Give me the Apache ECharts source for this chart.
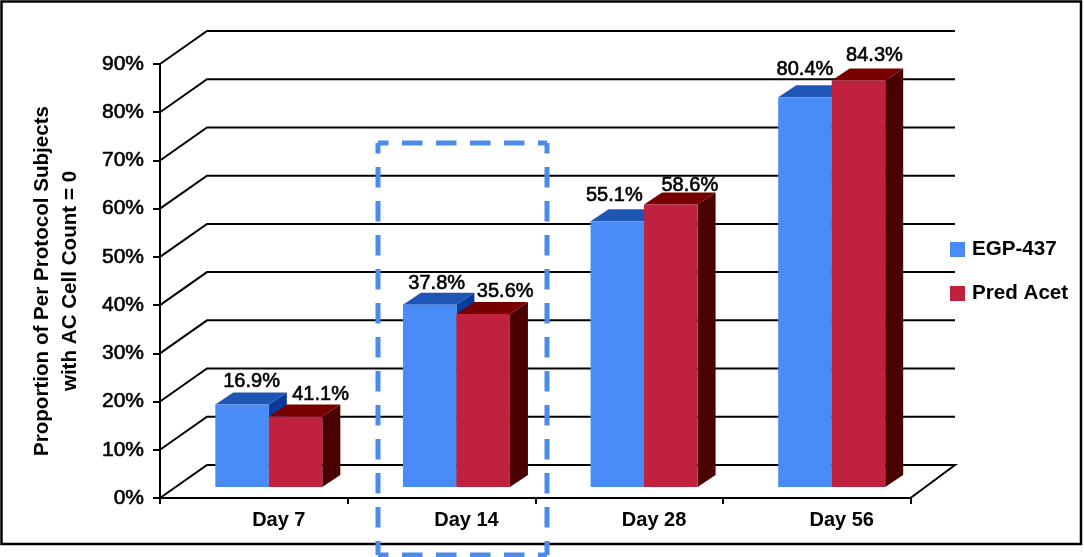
<!DOCTYPE html>
<html>
<head>
<meta charset="utf-8">
<style>html,body{margin:0;padding:0;background:#fff}#c{width:1084px;height:557px}</style>
<script src="https://cdn.jsdelivr.net/npm/echarts@6/dist/echarts.min.js"></script>
</head>
<body>
<div id="c"></div>
<script>
const categories = ['Day 7', 'Day 14', 'Day 28', 'Day 56'];
const egpValues = [17.1, 37.8, 55.1, 80.8];
const predValues = [14.6, 35.9, 58.6, 84.3];
const egpLabels = ['16.9%', '37.8%', '55.1%', '80.4%'];
const predLabels = ['41.1%', '35.6%', '58.6%', '84.3%'];
const yTicks = [0, 10, 20, 30, 40, 50, 60, 70, 80, 90];

// layout of the pseudo-3D drawing
const FONT = '"Liberation Sans", Arial, sans-serif';
const WALL = { dx: 47, dy: -33, right: 955 };
const BAR = { w: 53.5, shiftX: 15, baseUp: 11, dx: 18, dy: -12 };
const egpNudge = [[9.5, -23], [7, -21], [-3, -26], [0, -28]];
const predNudge = [[25, -22], [22, -22], [19, -19], [16, -25]];

function wallItem(params, api) {
  const v = api.value(0);
  const p = api.coord([0, v]);
  const x0 = params.coordSys.x;
  const y = p[1];
  const style = { stroke: '#000', lineWidth: 2, fill: 'none', lineJoin: 'miter' };
  const pts = [[x0, y], [x0 + WALL.dx, y + WALL.dy], [WALL.right, y + WALL.dy]];
  if (v === 0) pts.push([params.coordSys.x + params.coordSys.width, y]);
  return { type: 'polyline', shape: { points: pts }, style, silent: true };
}

function barRender(side, colors, labels, nudge) {
  return function (params, api) {
    const idx = api.value(0);
    const top = api.coord([idx, api.value(1)]);
    const zero = api.coord([idx, 0]);
    const xl = top[0] + BAR.shiftX + (side < 0 ? -BAR.w : 0);
    const xr = xl + BAR.w;
    const yb = zero[1] - BAR.baseUp;
    const ty = yb - (zero[1] - top[1]);
    const d = { x: BAR.dx, y: BAR.dy };
    const n = nudge[idx];
    return {
      type: 'group',
      children: [
        { type: 'polygon', shape: { points: [[xr, ty], [xr + d.x, ty + d.y], [xr + d.x, yb + d.y], [xr, yb]] }, style: { fill: colors.side } },
        { type: 'polygon', shape: { points: [[xl, ty], [xl + d.x, ty + d.y], [xr + d.x, ty + d.y], [xr, ty]] }, style: { fill: colors.top } },
        { type: 'rect', shape: { x: xl, y: ty, width: BAR.w, height: yb - ty }, style: { fill: colors.front } },
        { type: 'text', z2: 10, style: { x: (xl + xr) / 2 + n[0], y: ty + n[1], text: labels[idx], align: 'center', verticalAlign: 'middle', fontFamily: FONT, fontSize: 20, fill: '#000', stroke: '#000', lineWidth: 0.6 } }
      ]
    };
  };
}

const blue = { front: '#4a8cf7', top: '#1f55b5', side: '#0a3a9c' };
const red = { front: '#c0213f', top: '#760000', side: '#4a0000' };

const chart = echarts.init(document.getElementById('c'), null, { renderer: 'canvas' });
chart.setOption({
  animation: false,
  backgroundColor: '#fff',
  textStyle: { fontFamily: FONT },
  grid: { left: 160, top: 64, width: 750.5, height: 434, containLabel: false, outerBoundsMode: 'none' },
  legend: {
    orient: 'vertical', left: 945, top: 234, itemWidth: 15, itemHeight: 15, itemGap: 23,
    icon: 'rect', data: ['EGP-437', 'Pred Acet'],
    textStyle: { fontFamily: FONT, fontSize: 20.6, fontWeight: 'bold', color: '#000', padding: [0, 0, 0, 2] }
  },
  xAxis: {
    type: 'category', data: categories, boundaryGap: true,
    axisLine: { lineStyle: { color: '#000', width: 2 } },
    axisTick: { show: true, length: 6, alignWithLabel: false, lineStyle: { color: '#000', width: 2 } },
    axisLabel: { color: '#000', fontFamily: FONT, fontSize: 20, fontWeight: 'bold', margin: 12, padding: [0, 0, 0, 50] }
  },
  yAxis: {
    type: 'value', min: 0, max: 90, interval: 10,
    name: 'Proportion of Per Protocol Subjects\nwith AC Cell Count = 0',
    nameLocation: 'middle', nameGap: 76, nameRotate: 90,
    nameTextStyle: { color: '#000', fontFamily: FONT, fontSize: 20.6, fontWeight: 'bold', lineHeight: 28 },
    axisLine: { show: true, lineStyle: { color: '#000', width: 2 } },
    axisTick: { show: true, length: 7, lineStyle: { color: '#000', width: 2 } },
    splitLine: { show: false },
    axisLabel: { color: '#000', fontFamily: FONT, fontSize: 21, margin: 16, formatter: '{value}%', textBorderColor: '#000', textBorderWidth: 0.6 }
  },
  series: [
    { name: 'wall', type: 'custom', coordinateSystem: 'cartesian2d', silent: true, z: 1, clip: false,
      data: yTicks.map(t => [t]), encode: { x: -1, y: 0 }, renderItem: wallItem },
    { name: 'EGP-437', type: 'custom', z: 3, clip: false, itemStyle: { color: blue.front },
      data: egpValues.map((v, i) => [i, v]), encode: { x: 0, y: 1 },
      renderItem: barRender(-1, blue, egpLabels, egpNudge) },
    { name: 'Pred Acet', type: 'custom', z: 4, clip: false, itemStyle: { color: red.front },
      data: predValues.map((v, i) => [i, v]), encode: { x: 0, y: 1 },
      renderItem: barRender(1, red, predLabels, predNudge) }
  ],
  graphic: [
    { type: 'rect', z: 100, silent: true, shape: { x: 1.5, y: 1.5, width: 1079.5, height: 542.5 }, style: { fill: 'none', stroke: '#000', lineWidth: 2.5 } },
    ...[[[378, 143], [547, 143]], [[378, 143], [378, 555]], [[547, 143], [547, 555]], [[378, 555], [547, 555]]].map(l => ({
      type: 'line', z: 101, silent: true,
      shape: { x1: l[0][0], y1: l[0][1], x2: l[1][0], y2: l[1][1] },
      style: { stroke: '#4a8ce8', lineWidth: 5, lineDash: [20.5, 13.5], lineDashOffset: 10 }
    }))
  ]
});
</script>
</body>
</html>
